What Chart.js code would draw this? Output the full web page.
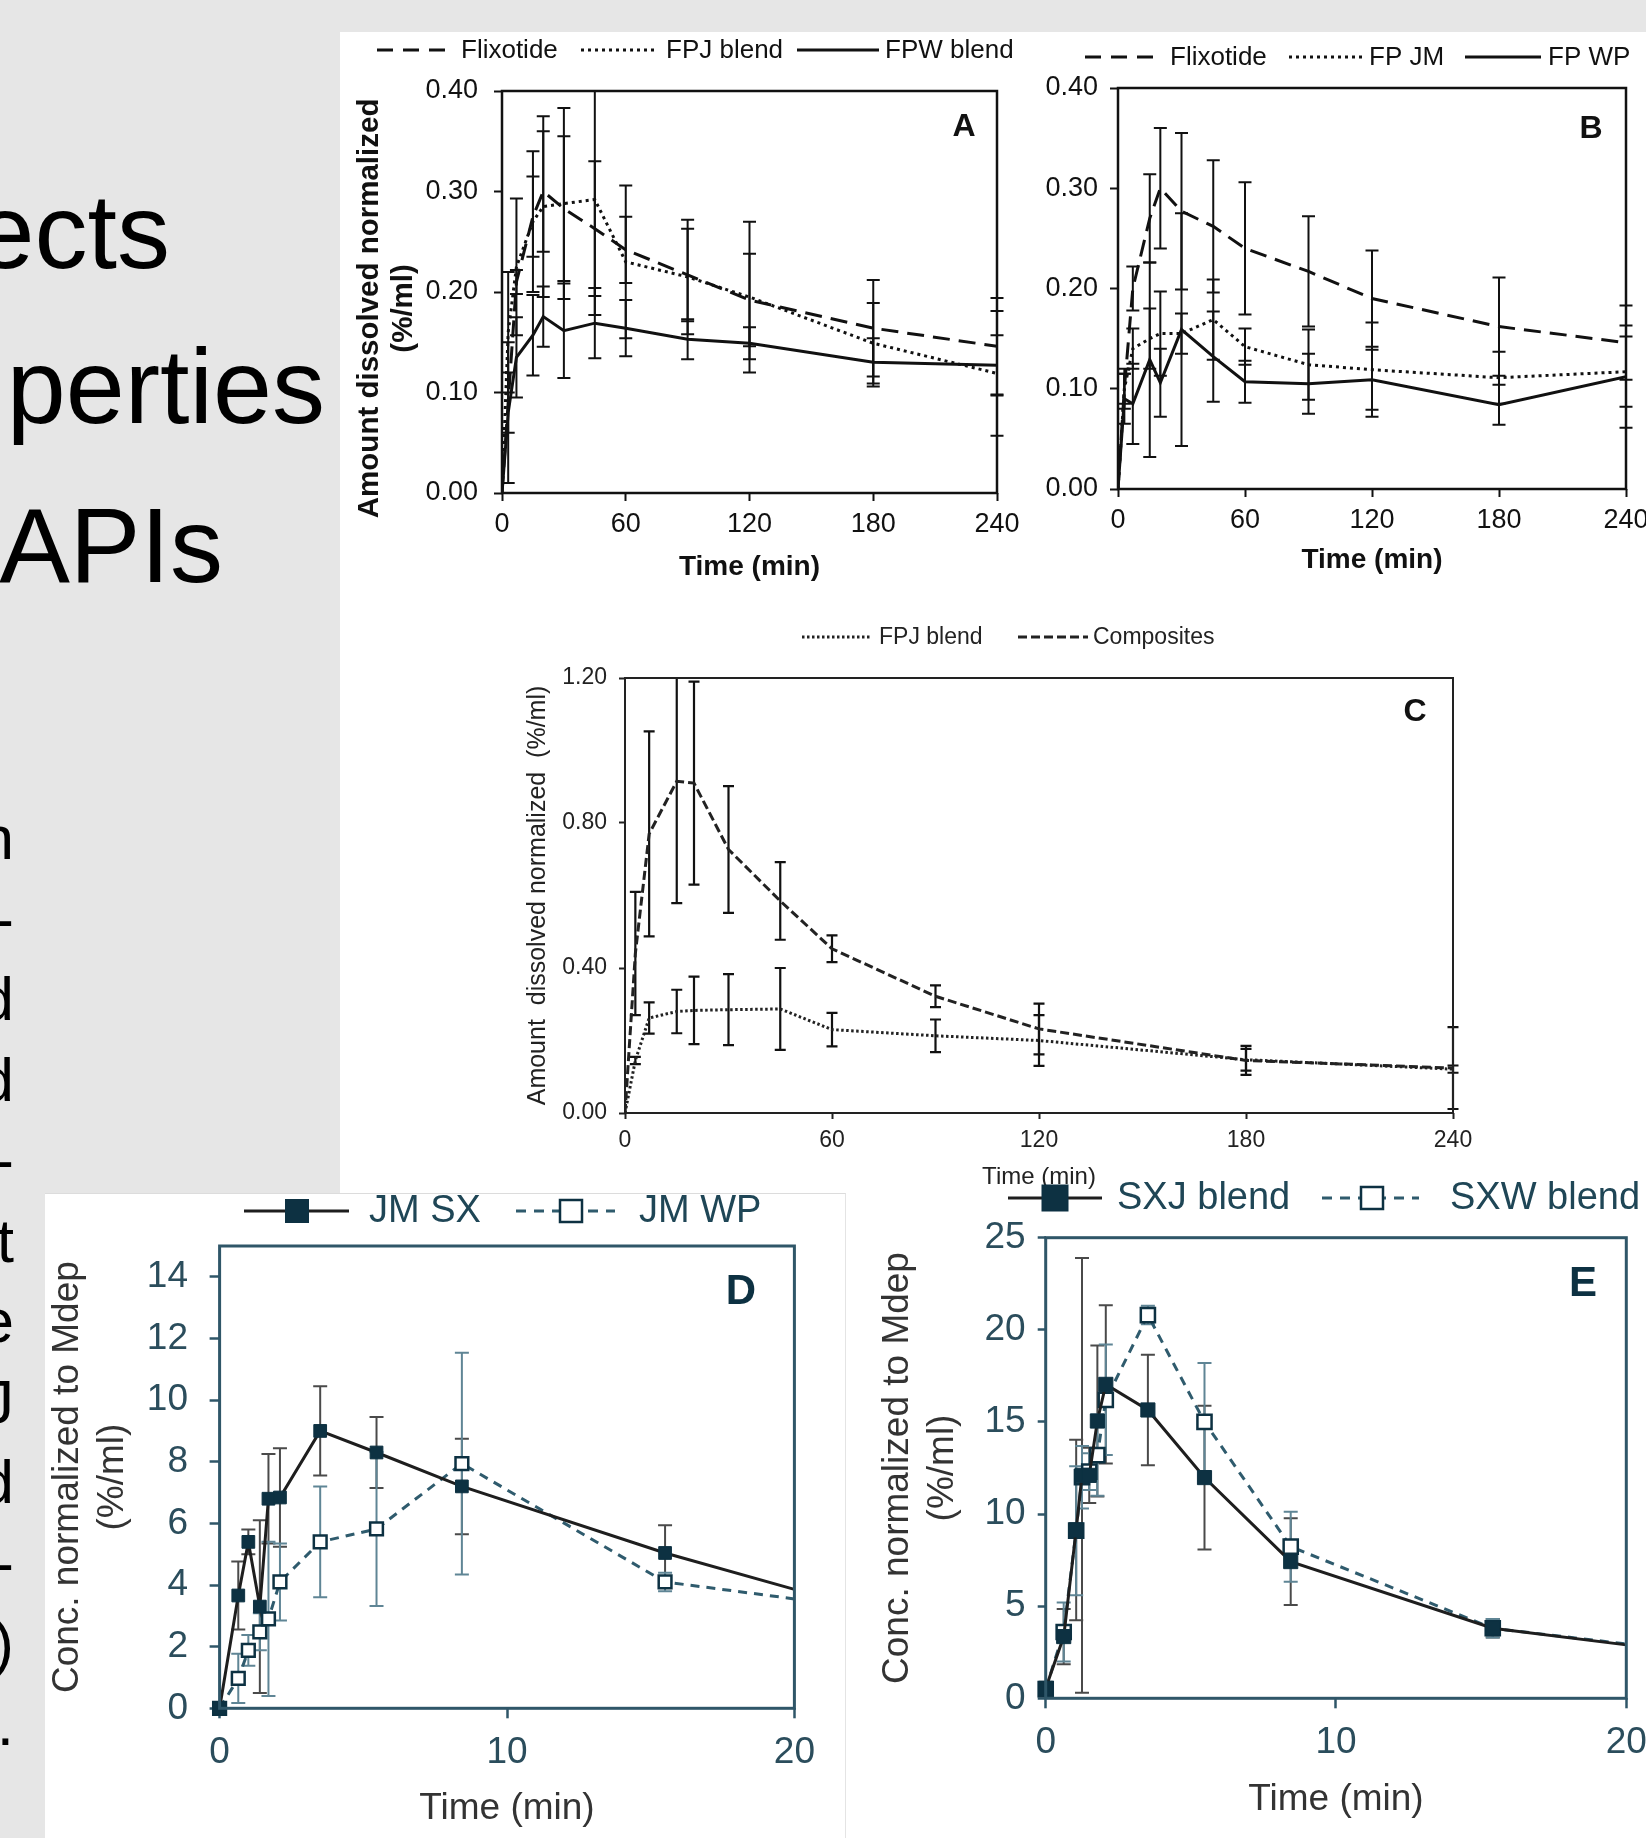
<!DOCTYPE html>
<html><head><meta charset="utf-8">
<script src="https://cdn.jsdelivr.net/npm/chart.js@4.4.1/dist/chart.umd.min.js"></script>
<style>
html,body{margin:0;padding:0;}
body{width:1646px;height:1838px;overflow:hidden;background:#e6e6e6;position:relative;font-family:'Liberation Sans',Arial,Helvetica,sans-serif;}
.panel{position:absolute;background:#fff;box-sizing:border-box;}
canvas{position:absolute;display:block;}
.big{position:absolute;font-size:106px;line-height:106px;white-space:nowrap;color:#000;}
.col{position:absolute;right:1632px;top:798px;font-size:62px;line-height:80.5px;text-align:right;white-space:pre;color:#000;}
</style></head><body>
<div class="panel" style="left:340px;top:32px;width:1306px;height:1806px"></div>
<div class="big" style="right:1476px;top:178px">ects</div>
<div class="big" style="right:1321px;top:333px">perties</div>
<div class="big" style="right:1423px;top:492px">APIs</div>
<div class="col">n
-
d
d
-
t
e
J
d
-
)
.</div>
<canvas id="cA" width="690" height="568" style="left:340px;top:32px"></canvas>
<canvas id="cB" width="616" height="568" style="left:1030px;top:32px"></canvas>
<canvas id="cC" width="1000" height="600" style="left:480px;top:600px"></canvas>
<div class="panel" style="left:45px;top:1193px;width:801px;height:645px;border-top:1px solid #dcdcdc;border-right:1px solid #e4e4e4"></div>
<canvas id="cD" width="801" height="645" style="left:45px;top:1193px"></canvas>
<canvas id="cE" width="800" height="668" style="left:846px;top:1170px"></canvas>
<script>
// ---------------- DATA ----------------
// Panels A, B, C : time points (min)
const timeABC = [0, 3, 7, 15, 20, 30, 45, 60, 90, 120, 180, 240];
// Panel A
const flixotideA    = [0, 0.09, 0.21, 0.275, 0.30, 0.283, 0.263, 0.242, 0.217, 0.192, 0.164, 0.146];
const flixotideAErr = [0, 0.03, 0.012, 0.04, 0.06, 0.072, 0.067, 0.033, 0.046, 0.046, 0.048, 0.048];
const fpjBlendA     = [0, 0.16, 0.225, 0.27, 0.285, 0.288, 0.292, 0.23, 0.215, 0.195, 0.149, 0.119];
const fpjBlendAErr  = [0, 0.06, 0.068, 0.07, 0.09, 0.095, 0.115, 0.076, 0.057, 0.075, 0.04, 0.062];
const fpwBlendA     = [0, 0.08, 0.135, 0.157, 0.1755, 0.1615, 0.169, 0.164, 0.153, 0.149, 0.13, 0.127];
const fpwBlendAErr  = [0, 0.07, 0.04, 0.04, 0.03, 0.047, 0.035, 0.028, 0.02, 0.016, 0.024, 0.03];
// Panel B
const flixotideB    = [0, 0.10, 0.20, 0.27, 0.30, 0.277, 0.262, 0.24, 0.217, 0.19, 0.162, 0.146];
const flixotideBErr = [0, 0.02, 0.022, 0.044, 0.06, 0.078, 0.066, 0.066, 0.055, 0.048, 0.049, 0.037];
const fpJMB         = [0, 0.10, 0.14, 0.15, 0.155, 0.155, 0.169, 0.142, 0.124, 0.119, 0.111, 0.117];
const fpJMBErr      = [0, 0.015, 0.02, 0.03, 0.042, 0.02, 0.04, 0.018, 0.035, 0.047, 0.026, 0.035];
const fpWPB         = [0, 0.09, 0.085, 0.129, 0.106, 0.159, 0.132, 0.107, 0.105, 0.109, 0.084, 0.112];
const fpWPBErr      = [0, 0.025, 0.04, 0.097, 0.034, 0.116, 0.045, 0.021, 0.03, 0.03, 0.02, 0.051];
// Panel C
const fpjBlendC     = [0, 0.145, 0.262, 0.28, 0.283, 0.285, 0.287, 0.23, 0.213, 0.2, 0.147, 0.121];
const fpjBlendCErr  = [0, 0.01, 0.043, 0.06, 0.093, 0.098, 0.113, 0.046, 0.045, 0.07, 0.03, 0.01];
const compositesC   = [0, 0.44, 0.77, 0.915, 0.91, 0.727, 0.585, 0.453, 0.322, 0.232, 0.145, 0.124];
const compositesCErr= [0, 0.17, 0.283, 0.336, 0.28, 0.175, 0.107, 0.037, 0.03, 0.07, 0.04, 0.113];
// Panel D
const timeD   = [0, 0.65, 1.0, 1.4, 1.7, 2.1, 3.5, 5.46, 8.43, 15.5, 20];
const jmSX    = [0, 3.66, 5.4, 3.3, 6.8, 6.84, 9.0, 8.3, 7.2, 5.04, 3.86];
const jmSXErr = [0, 1.1, 0.4, 2.8, 1.45, 1.6, 1.45, 1.15, 1.55, 0.9, 0];
const jmWP    = [0, 0.97, 1.88, 2.48, 2.9, 4.1, 5.4, 5.82, 7.94, 4.1, 3.55];
const jmWPErr = [0, 0.8, 0.5, 0.6, 2.5, 1.25, 1.8, 2.5, 3.6, 0.3, 0];
// Panel E
const timeE     = [0, 0.62, 1.05, 1.25, 1.5, 1.78, 2.07, 3.52, 5.47, 8.44, 15.4, 20];
const sxjBlend  = [0.54, 3.35, 9.14, 12.1, 12.1, 15.05, 17.04, 15.65, 11.98, 7.42, 3.8, 2.9];
const sxjBlendErr = [0.3, 1.5, 4.9, 11.8, 1.5, 4.1, 4.3, 3.0, 3.9, 2.35, 0.5, 0];
const sxwBlend  = [0.5, 3.6, 9.1, 12.0, 12.3, 13.2, 16.2, 20.8, 15.0, 8.23, 3.8, 2.95];
const sxwBlendErr = [0.3, 1.6, 3.5, 1.7, 1.0, 2.2, 3.0, 0.5, 3.2, 1.9, 0.5, 0];
// Tick values
const xTicksABC = [0, 60, 120, 180, 240];
const yTicksAB  = [0, 0.1, 0.2, 0.3, 0.4];
const yTicksC   = [0, 0.4, 0.8, 1.2];
const xTicksDE  = [0, 10, 20];
const yTicksD   = [0, 2, 4, 6, 8, 10, 12, 14];
const yTicksE   = [0, 5, 10, 15, 20, 25];

// ---------------- HELPERS ----------------
const FONT = "'Liberation Sans', Arial, Helvetica, sans-serif";
Chart.defaults.font.family = FONT;
Chart.defaults.animation = false;
const pts = (xs, ys) => xs.map((x, i) => ({x: x, y: ys[i]}));

function ds(label, xs, ys, errs, style) {
  return Object.assign({label: label, data: pts(xs, ys), errorBars: errs, fill: false, tension: 0,
    pointRadius: 0, pointHoverRadius: 0, borderJoinStyle: 'miter', borderCapStyle: 'butt'}, style);
}

function scale(o) {
  const horiz = o.axis === 'x';
  return {
    type: 'linear', position: horiz ? 'bottom' : 'left', min: o.min, max: o.max,
    afterFit: s => {
      if (horiz) s.height = o.size; else s.width = o.size;
      s.paddingLeft = 0; s.paddingRight = 0; s.paddingTop = 0; s.paddingBottom = 0;
    },
    afterBuildTicks: s => { s.ticks = o.ticks.map(v => ({value: v})); },
    border: {display: false},
    grid: {display: true, drawOnChartArea: false, drawTicks: true, tickLength: o.tl, tickWidth: o.tw, tickColor: o.col},
    ticks: {color: o.tcol, font: o.tfont, padding: o.tpad, maxRotation: 0, minRotation: 0, autoSkip: false, callback: o.fmt},
    title: o.title ? {display: true, text: o.title, color: o.titleCol, font: o.titleFont,
      padding: horiz ? {top: 0, bottom: o.titlePad} : {top: o.titlePad, bottom: 0}} : {display: false}
  };
}

function decor(conf) {
  return {
    id: 'decor',
    beforeDatasetsDraw(chart) {
      const ctx = chart.ctx, a = chart.chartArea, xs = chart.scales.x, ys = chart.scales.y;
      ctx.save();
      ctx.beginPath(); ctx.rect(a.left - 30, a.top, a.right - a.left + 60, a.bottom - a.top); ctx.clip();
      ctx.setLineDash([]); ctx.lineWidth = conf.errWidth; ctx.lineCap = 'butt';
      chart.data.datasets.forEach(d => {
        if (!d.errorBars) return;
        ctx.strokeStyle = d.errorColor || '#111';
        d.data.forEach((p, j) => {
          const e = d.errorBars[j];
          if (!e) return;
          const px = xs.getPixelForValue(p.x), t = ys.getPixelForValue(p.y + e), b = ys.getPixelForValue(p.y - e), c = conf.cap;
          ctx.beginPath();
          ctx.moveTo(px, t); ctx.lineTo(px, b);
          ctx.moveTo(px - c, t); ctx.lineTo(px + c, t);
          ctx.moveTo(px - c, b); ctx.lineTo(px + c, b);
          ctx.stroke();
        });
      });
      ctx.restore();
    },
    afterDatasetsDraw(chart) {
      const ctx = chart.ctx, a = chart.chartArea;
      ctx.save();
      ctx.strokeStyle = conf.boxColor; ctx.lineWidth = conf.boxWidth; ctx.setLineDash([]);
      ctx.strokeRect(a.left, a.top, a.right - a.left, a.bottom - a.top);
      ctx.restore();
    },
    afterDraw(chart) {
      const ctx = chart.ctx, L = conf.legend;
      ctx.save();
      ctx.font = L.font; ctx.textBaseline = 'middle'; ctx.textAlign = 'left';
      L.items.forEach(it => {
        ctx.strokeStyle = it.color; ctx.lineWidth = it.width; ctx.setLineDash(it.dash); ctx.lineCap = 'butt';
        ctx.beginPath(); ctx.moveTo(it.x1, L.y); ctx.lineTo(it.x2, L.y); ctx.stroke();
        ctx.setLineDash([]);
        if (it.marker) {
          const s = it.ms;
          ctx.fillStyle = it.marker === 'filled' ? it.mcolor : '#fff';
          ctx.fillRect(it.mx - s / 2, L.y - s / 2, s, s);
          ctx.strokeStyle = it.mcolor; ctx.lineWidth = it.mw;
          ctx.strokeRect(it.mx - s / 2, L.y - s / 2, s, s);
        }
        ctx.fillStyle = L.color; ctx.fillText(it.text, it.tx, L.y + 1);
      });
      const P = conf.label;
      ctx.font = P.font; ctx.fillStyle = P.color; ctx.textAlign = 'center';
      ctx.fillText(P.text, P.x, P.y);
      ctx.restore();
    }
  };
}

function build(id, datasets, padding, xs, ys, conf) {
  new Chart(document.getElementById(id), {
    type: 'line',
    data: {datasets: datasets},
    options: {
      responsive: false, maintainAspectRatio: false, animation: false,
      layout: {padding: padding},
      plugins: {legend: {display: false}, tooltip: {enabled: false}},
      scales: {x: scale(xs), y: scale(ys)}
    },
    plugins: [decor(conf)]
  });
}

// ---------------- STYLES ----------------
const BLK = '#111';
const f2 = v => Number(v).toFixed(2);
const f0 = v => String(Math.round(v));
const abTick = {size: 27};
const abTitle = {size: 28, weight: 'bold', lineHeight: 1.214};
const abYTitle = {size: 29.5, weight: 'bold', lineHeight: 1.153};
const dashA = [17, 9], dotA = [3, 4];

// ---------------- CHART A ----------------
build('cA', [
  ds('Flixotide', timeABC, flixotideA, flixotideAErr, {borderColor: BLK, borderWidth: 3, borderDash: dashA}),
  ds('FPJ blend', timeABC, fpjBlendA, fpjBlendAErr, {borderColor: BLK, borderWidth: 3, borderDash: dotA}),
  ds('FPW blend', timeABC, fpwBlendA, fpwBlendAErr, {borderColor: BLK, borderWidth: 3})
], {left: 0, right: 33, top: 59, bottom: 0},
  {axis: 'x', min: 0, max: 240, size: 107, ticks: xTicksABC, tl: 8, tw: 2, col: BLK, tcol: BLK, tfont: abTick, tpad: 7, fmt: f0,
   title: 'Time (min)', titleCol: BLK, titleFont: abTitle, titlePad: 16},
  {axis: 'y', min: 0, max: 0.4, size: 162, ticks: yTicksAB, tl: 8, tw: 2, col: BLK, tcol: BLK, tfont: abTick, tpad: 16, fmt: f2,
   title: ['Amount dissolved normalized    ', '(%/ml)    '], titleCol: BLK, titleFont: abYTitle, titlePad: 13},
  {errWidth: 2, cap: 6.5, boxColor: BLK, boxWidth: 2.5,
   legend: {y: 18, font: '26px ' + FONT, color: BLK, items: [
     {text: 'Flixotide', x1: 37, x2: 115, tx: 121, color: BLK, width: 3, dash: [16, 10]},
     {text: 'FPJ blend', x1: 241, x2: 317, tx: 326, color: BLK, width: 3, dash: [3, 4]},
     {text: 'FPW blend', x1: 457, x2: 539, tx: 545, color: BLK, width: 3, dash: []}]},
   label: {text: 'A', x: 624, y: 95, font: 'bold 32px ' + FONT, color: BLK}});

// ---------------- CHART B ----------------
build('cB', [
  ds('Flixotide', timeABC, flixotideB, flixotideBErr, {borderColor: BLK, borderWidth: 3, borderDash: dashA}),
  ds('FP JM', timeABC, fpJMB, fpJMBErr, {borderColor: BLK, borderWidth: 3, borderDash: dotA}),
  ds('FP WP', timeABC, fpWPB, fpWPBErr, {borderColor: BLK, borderWidth: 3})
], {left: 0, right: 20, top: 56, bottom: 0},
  {axis: 'x', min: 0, max: 240, size: 111, ticks: xTicksABC, tl: 8, tw: 2, col: BLK, tcol: BLK, tfont: abTick, tpad: 7, fmt: f0,
   title: 'Time (min)', titleCol: BLK, titleFont: abTitle, titlePad: 23},
  {axis: 'y', min: 0, max: 0.4, size: 88, ticks: yTicksAB, tl: 8, tw: 2, col: BLK, tcol: BLK, tfont: abTick, tpad: 12, fmt: f2},
  {errWidth: 2, cap: 6.5, boxColor: BLK, boxWidth: 2.5,
   legend: {y: 25, font: '26px ' + FONT, color: BLK, items: [
     {text: 'Flixotide', x1: 55, x2: 131, tx: 140, color: BLK, width: 3, dash: [16, 10]},
     {text: 'FP JM', x1: 259, x2: 332, tx: 339, color: BLK, width: 3, dash: [3, 4]},
     {text: 'FP WP', x1: 435, x2: 511, tx: 518, color: BLK, width: 3, dash: []}]},
   label: {text: 'B', x: 561, y: 97, font: 'bold 32px ' + FONT, color: BLK}});

// ---------------- CHART C ----------------
const cTick = {size: 23};
const cTitle = {size: 25};
build('cC', [
  ds('FPJ blend', timeABC, fpjBlendC, fpjBlendCErr, {borderColor: '#222', borderWidth: 3, borderDash: [2.5, 2.5]}),
  ds('Composites', timeABC, compositesC, compositesCErr, {borderColor: '#222', borderWidth: 3, borderDash: [9, 4]})
], {left: 0, right: 27, top: 78, bottom: 0},
  {axis: 'x', min: 0, max: 240, size: 87, ticks: xTicksABC, tl: 6, tw: 2, col: '#222', tcol: '#222', tfont: cTick, tpad: 8, fmt: f0,
   title: 'Time (min)', titleCol: '#222', titleFont: {size: 24}, titlePad: 8},
  {axis: 'y', min: 0, max: 1.2, size: 145, ticks: yTicksC, tl: 6, tw: 2, col: '#222', tcol: '#222', tfont: cTick, tpad: 12, fmt: f2,
   title: 'Amount  dissolved normalized  (%/ml)', titleCol: '#222', titleFont: cTitle, titlePad: 43},
  {errWidth: 2.2, cap: 5.5, boxColor: '#222', boxWidth: 2,
   legend: {y: 37, font: '23px ' + FONT, color: '#222', items: [
     {text: 'FPJ blend', x1: 322, x2: 390, tx: 399, color: '#222', width: 3, dash: [2.5, 2.5]},
     {text: 'Composites', x1: 538, x2: 608, tx: 613, color: '#222', width: 3, dash: [9, 4]}]},
   label: {text: 'C', x: 935, y: 112, font: 'bold 32px ' + FONT, color: '#111'}});

// ---------------- CHARTS D & E ----------------
const NAVY = '#0d3142', TEAL = '#2f5b6d', AXC = '#2f5668', TXT = '#2b4d5c', GRYT = '#333';
const deTick = {size: 37};
const deTitle = {size: 37, lineHeight: 1.22};
function sxStyle(r, n) {
  const radii = Array.from({length: n}, (_, i) => i === n - 1 ? 0 : r);
  return {borderColor: '#1e1e1e', borderWidth: 3, pointStyle: 'rect', pointRadius: radii, pointBackgroundColor: NAVY,
    pointBorderColor: NAVY, pointBorderWidth: 1, errorColor: '#4a4a4a', clip: false};
}
function wpStyle(r, n) {
  const radii = Array.from({length: n}, (_, i) => i === n - 1 ? 0 : r);
  return {borderColor: TEAL, borderWidth: 3, borderDash: [9, 7], pointStyle: 'rect', pointRadius: radii, pointBackgroundColor: '#fff',
    pointBorderColor: NAVY, pointBorderWidth: 2.5, errorColor: '#5f8595', clip: false};
}

build('cD', [
  ds('JM SX', timeD, jmSX, jmSXErr, sxStyle(9, timeD.length)),
  ds('JM WP', timeD, jmWP, jmWPErr, wpStyle(9, timeD.length))
], {left: 0, right: 51.6, top: 53, bottom: 0},
  {axis: 'x', min: 0, max: 20, size: 129.7, ticks: xTicksDE, tl: 10, tw: 2.5, col: AXC, tcol: TXT, tfont: deTick, tpad: 12.5, fmt: f0,
   title: 'Time (min)', titleCol: GRYT, titleFont: deTitle, titlePad: 7},
  {axis: 'y', min: 0, max: 15, size: 174.6, ticks: yTicksD, tl: 10, tw: 2.5, col: AXC, tcol: TXT, tfont: deTick, tpad: 21.6, fmt: f0,
   title: ['Conc. normalized to Mdep', '(%/ml)'], titleCol: GRYT, titleFont: deTitle, titlePad: 0.5},
  {errWidth: 2, cap: 7, boxColor: AXC, boxWidth: 3,
   legend: {y: 18, font: '38px ' + FONT, color: '#1f4656', items: [
     {text: 'JM SX', x1: 199, x2: 304, tx: 324, color: '#1e1e1e', width: 3, dash: [], marker: 'filled', mx: 252, ms: 23, mcolor: NAVY, mw: 1},
     {text: 'JM WP', x1: 471, x2: 570, tx: 594, color: TEAL, width: 3, dash: [10, 8], marker: 'open', mx: 526, ms: 22, mcolor: NAVY, mw: 2.5}]},
   label: {text: 'D', x: 696, y: 99, font: 'bold 42px ' + FONT, color: NAVY}});

build('cE', [
  ds('SXJ blend', timeE, sxjBlend, sxjBlendErr, sxStyle(10, timeE.length)),
  ds('SXW blend', timeE, sxwBlend, sxwBlendErr, wpStyle(10, timeE.length))
], {left: 0, right: 19.7, top: 67.7, bottom: 0},
  {axis: 'x', min: 0, max: 20, size: 139.7, ticks: xTicksDE, tl: 10, tw: 2.5, col: AXC, tcol: TXT, tfont: deTick, tpad: 12.5, fmt: f0,
   title: 'Time (min)', titleCol: GRYT, titleFont: deTitle, titlePad: 15.8},
  {axis: 'y', min: 0, max: 25, size: 199.7, ticks: yTicksE, tl: 8, tw: 2.5, col: AXC, tcol: TXT, tfont: deTick, tpad: 12, fmt: f0,
   title: ['Conc. normalized to Mdep', '(%/ml)'], titleCol: GRYT, titleFont: deTitle, titlePad: 29},
  {errWidth: 2, cap: 7, boxColor: AXC, boxWidth: 3,
   legend: {y: 28, font: '38px ' + FONT, color: '#1f4656', items: [
     {text: 'SXJ blend', x1: 162, x2: 256, tx: 271, color: '#1e1e1e', width: 3, dash: [], marker: 'filled', mx: 209, ms: 26, mcolor: NAVY, mw: 1},
     {text: 'SXW blend', x1: 476, x2: 573, tx: 604, color: TEAL, width: 3, dash: [10, 8], marker: 'open', mx: 526, ms: 22, mcolor: NAVY, mw: 2.5}]},
   label: {text: 'E', x: 737, y: 114, font: 'bold 42px ' + FONT, color: NAVY}});
</script>
</body></html>
